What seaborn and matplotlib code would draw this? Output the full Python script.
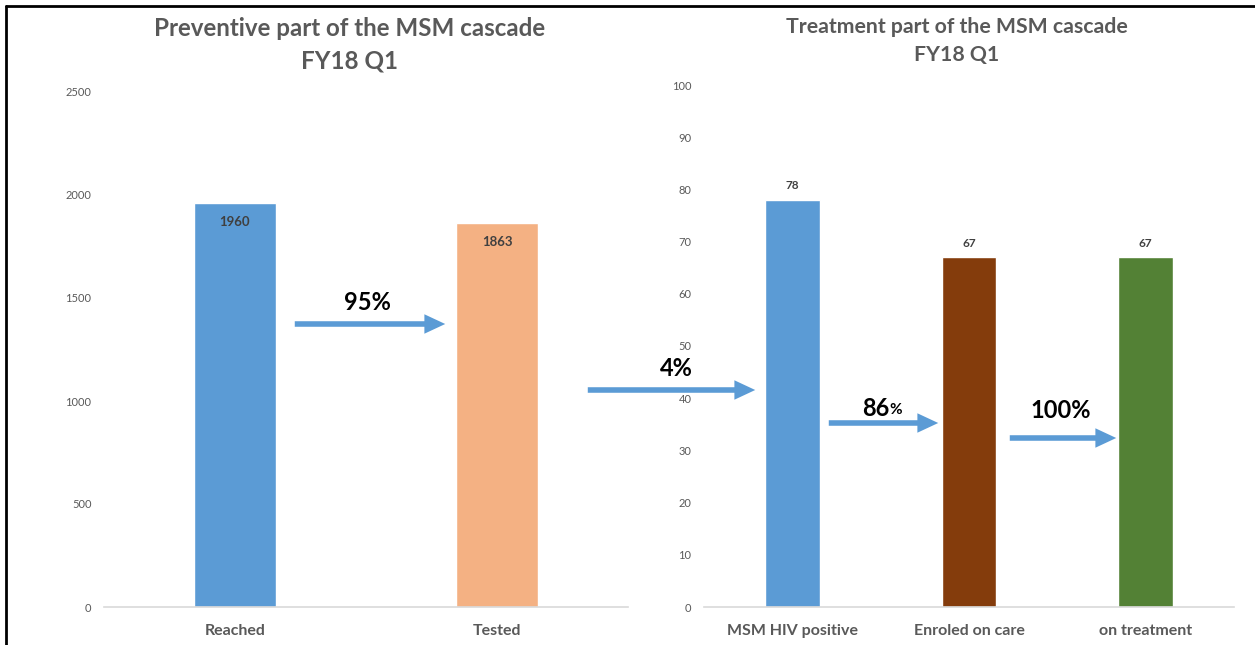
import matplotlib
matplotlib.use("Agg")
import matplotlib.pyplot as plt
from matplotlib.lines import Line2D
import seaborn as sns
import pandas as pd

# Cascade data
prev_stages = ["Reached", "Tested"]
prev_values = [1960, 1863]
prev_colors = ["#5B9BD5", "#F4B183"]

treat_stages = ["MSM HIV positive", "Enroled on care", "on treatment"]
treat_values = [78, 67, 67]
treat_colors = ["#5B9BD5", "#843C0C", "#538135"]

prev_ticks = [0, 500, 1000, 1500, 2000, 2500]
treat_ticks = list(range(0, 101, 10))

sns.set_theme(style="white")
plt.rcParams["font.family"] = ["Lato", "DejaVu Sans"]

W, H = 1255, 645
fig = plt.figure(figsize=(W / 100, H / 100), dpi=100)


def fx(px):
    return px / W


def fy(py):
    return 1 - py / H


GRAY = "#595959"
BLUE = "#5B9BD5"

ax1 = fig.add_axes([fx(104), fy(607), fx(628) - fx(104), fy(92) - fy(607)])
ax2 = fig.add_axes([fx(704), fy(607), fx(1234) - fx(704), fy(85) - fy(607)])

df1 = pd.DataFrame({"stage": prev_stages, "value": prev_values})
df2 = pd.DataFrame({"stage": treat_stages, "value": treat_values})

sns.barplot(data=df1, x="stage", y="value", hue="stage", palette=prev_colors,
            width=0.31, legend=False, ax=ax1, saturation=1)
sns.barplot(data=df2, x="stage", y="value", hue="stage", palette=treat_colors,
            width=0.31, legend=False, ax=ax2, saturation=1)

ax1.set_ylim(0, 2500)
ax1.set_yticks(prev_ticks)
ax2.set_ylim(0, 100)
ax2.set_yticks(treat_ticks)

for ax in (ax1, ax2):
    ax.set_xlabel("")
    ax.set_ylabel("")
    for s in ("top", "right", "left"):
        ax.spines[s].set_visible(False)
    ax.spines["bottom"].set_color("#D9D9D9")
    ax.spines["bottom"].set_linewidth(1.2)
    ax.tick_params(axis="y", length=0, pad=9, labelsize=8, labelcolor=GRAY)
    ax.tick_params(axis="x", length=0, pad=12, labelsize=11.5, labelcolor=GRAY)
    for lbl in ax.get_xticklabels():
        lbl.set_fontweight("bold")
    ax.grid(False)

# value labels
for i, v in enumerate(prev_values):
    ax1.text(i, v - 60, f"{v}", ha="center", va="top", fontsize=9.5,
             color="#404040", fontweight="bold")
for i, v in enumerate(treat_values):
    ax2.text(i, v + 1.6, f"{v}", ha="center", va="bottom", fontsize=8.5,
             color="#404040", fontweight="bold")

# titles
fig.text(fx(350), fy(28), "Preventive part of the MSM cascade", ha="center",
         va="center", fontsize=17.4, fontweight="bold", color=GRAY)
fig.text(fx(350), fy(61), "FY18 Q1", ha="center", va="center",
         fontsize=17.4, fontweight="bold", color=GRAY)
fig.text(fx(957), fy(27), "Treatment part of the MSM cascade", ha="center",
         va="center", fontsize=15.3, fontweight="bold", color=GRAY)
fig.text(fx(957), fy(55), "FY18 Q1", ha="center", va="center",
         fontsize=15.3, fontweight="bold", color=GRAY)


# conversion arrows between stages
def arrow(x0, x1, y):
    fig.add_artist(matplotlib.patches.FancyArrowPatch(
        (fx(x0), fy(y)), (fx(x1), fy(y)), transform=fig.transFigure,
        arrowstyle="simple,head_width=1.4,head_length=1.5,tail_width=0.4",
        mutation_scale=10, color=BLUE, lw=0))


arrow(292, 448, 324)
arrow(585, 758, 390)
arrow(826, 941, 423)
arrow(1007, 1119, 438)

pct_style = dict(ha="center", va="center", fontsize=17, fontweight="bold",
                 color="black")
fig.text(fx(367), fy(302), "95%", **pct_style)
fig.text(fx(676), fy(368), "4%", **pct_style)
fig.text(fx(889), fy(408), "86", ha="right", va="center", fontsize=17,
         fontweight="bold", color="black")
fig.text(fx(889), fy(410), "%", ha="left", va="center", fontsize=11,
         fontweight="bold", color="black")
fig.text(fx(1061), fy(410), "100%", **pct_style)

# frame edges
fig.add_artist(Line2D([fx(6), fx(6)], [0, fy(6)], transform=fig.transFigure,
                      color="black", lw=2))
fig.add_artist(Line2D([fx(6), 1], [fy(6), fy(6)], transform=fig.transFigure,
                      color="black", lw=2))

fig.savefig("out.png", dpi=100)
